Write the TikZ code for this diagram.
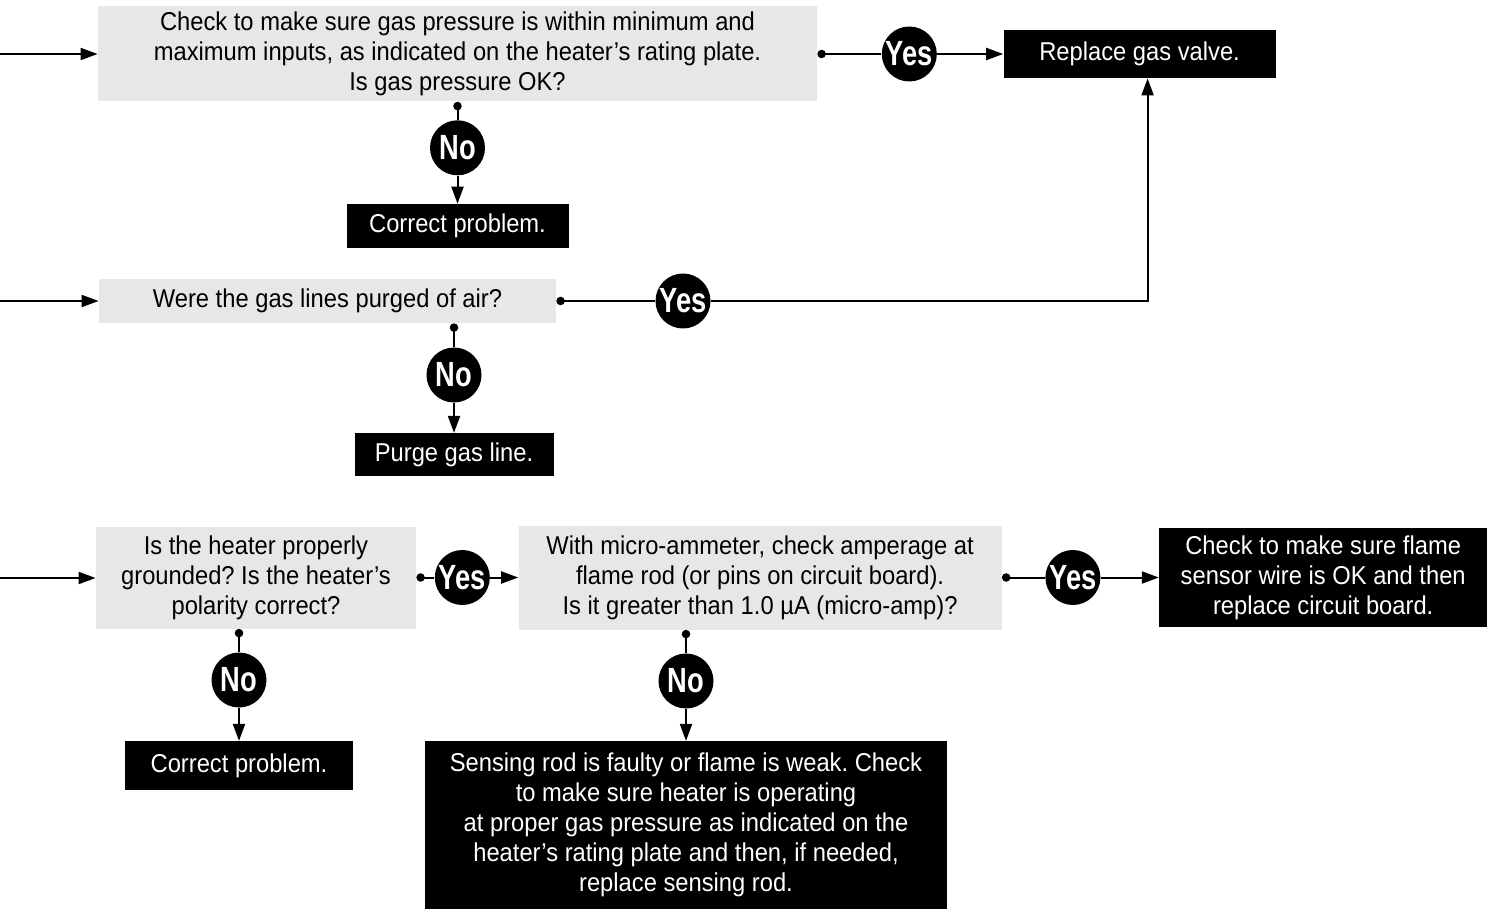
\documentclass[tikz,border=0pt]{standalone}
\usepackage{fontspec}
\setmainfont{Liberation Sans}[FakeStretch=0.92]
\newfontfamily\yesnofont{Liberation Sans}[FakeStretch=0.78]
\usepackage{tikz}
\usetikzlibrary{arrows.meta,positioning,calc}
\definecolor{askgrey}{RGB}{230,231,232}
\frenchspacing

\begin{document}
\begin{tikzpicture}[x=0.5pt, y=-0.5pt, node distance=10pt, >={Triangle[length=8.5pt,width=6pt]}]
    \tikzstyle{ask} = [rectangle, fill=askgrey, align=center, inner sep=0pt, font=\fontsize{12.9}{15}\selectfont]
    \tikzstyle{act} = [rectangle, fill=black, text=white, align=center, inner sep=0pt, font=\fontsize{12.9}{15}\selectfont]
    \tikzstyle{yesno} = [circle, fill=black, text=white, minimum size=27.5pt, inner sep=0pt, font=\yesnofont\bfseries\fontsize{17.5}{17.5}\selectfont]
    \tikzstyle{arrow} = [line width=1pt, ->]
    \tikzstyle{fork} = [line width=1pt, {Circle[length=4.2pt]}-]

    \useasboundingbox (0,0) rectangle (1490,909);

    % gas pressure
    \node (q1) [ask, minimum width=359.5pt, minimum height=47.5pt] at (457.5,54) {Check to make sure gas pressure is within minimum and\\maximum inputs, as indicated on the heater’s rating plate.\\Is gas pressure OK?};
    \node (y1) [yesno, right=32pt of q1] {Yes};
    \node (valve) [act, right=33pt of y1, minimum width=136pt, minimum height=24pt] {Replace gas valve.};
    \node (n1) [yesno, below=9pt of q1] {No};
    \node (fix1) [act, below=14pt of n1, minimum width=111pt, minimum height=22pt] {Correct problem.};

    % purged lines
    \node (q2) [ask, minimum width=228.5pt, minimum height=22pt] at (327.5,301) {Were the gas lines purged of air?};
    \node (y2) [yesno] at (683,301) {Yes};
    \node (n2) [yesno] at (454,375) {No};
    \node (purge) [act, below=15pt of n2, minimum width=99.5pt, minimum height=21.5pt] {Purge gas line.};

    % grounding and flame current
    \node (q3) [ask, minimum width=160pt, minimum height=51pt] at (256,577.5) {Is the heater properly\\grounded? Is the heater’s\\polarity correct?};
    \node (y3) [yesno, right=9pt of q3] {Yes};
    \node (q4) [ask, right=14pt of y3, minimum width=241.5pt, minimum height=52pt] {With micro-ammeter, check amperage at\\flame rod (or pins on circuit board).\\Is it greater than 1.0 µA (micro-amp)?};
    \node (y4) [yesno, right=21.5pt of q4] {Yes};
    \node (board) [act, right=29pt of y4, minimum width=164pt, minimum height=49.5pt] {Check to make sure flame\\sensor wire is OK and then\\replace circuit board.};
    \node (n3) [yesno] at (239,680) {No};
    \node (fix2) [act, below=16.5pt of n3, minimum width=114pt, minimum height=24.5pt] {Correct problem.};
    \node (n4) [yesno] at (686,681) {No};
    \node (rod) [act, below=16pt of n4, minimum width=261pt, minimum height=84pt] {Sensing rod is faulty or flame is weak. Check\\to make sure heater is operating\\at proper gas pressure as indicated on the\\heater’s rating plate and then, if needed,\\replace sensing rod.};

    \coordinate (in1) at (0,54);
    \coordinate (in2) at (0,301);
    \coordinate (in3) at (0,578);

    \draw [arrow] (in1) -- (in1 -| q1.west);
    \draw [arrow] (in2) -- (in2 -| q2.west);
    \draw [arrow] (in3) -- (in3 -| q3.west);

    \draw [fork] (q1.east |- y1) -- (y1);
    \draw [arrow] (y1) -- (valve);
    \draw [fork] (q1.south -| n1) -- (n1);
    \draw [arrow] (n1) -- (fix1);

    \draw [fork] (q2.east) -- (y2);
    \draw [arrow] (y2) -| ($(valve.south)+(8,0)$);
    \draw [fork] (q2.south -| n2) -- (n2);
    \draw [arrow] (n2) -- (purge.north -| n2);

    \draw [fork] (q3.east |- y3) -- (y3);
    \draw [arrow] (y3) -- (q4.west |- y3);
    \draw [fork] (q4.east |- y4) -- (y4);
    \draw [arrow] (y4) -- (board.west |- y4);
    \draw [fork] (q3.south -| n3) -- (n3);
    \draw [arrow] (n3) -- (fix2.north -| n3);
    \draw [fork] (q4.south -| n4) -- (n4);
    \draw [arrow] (n4) -- (rod.north -| n4);
\end{tikzpicture}
\end{document}
